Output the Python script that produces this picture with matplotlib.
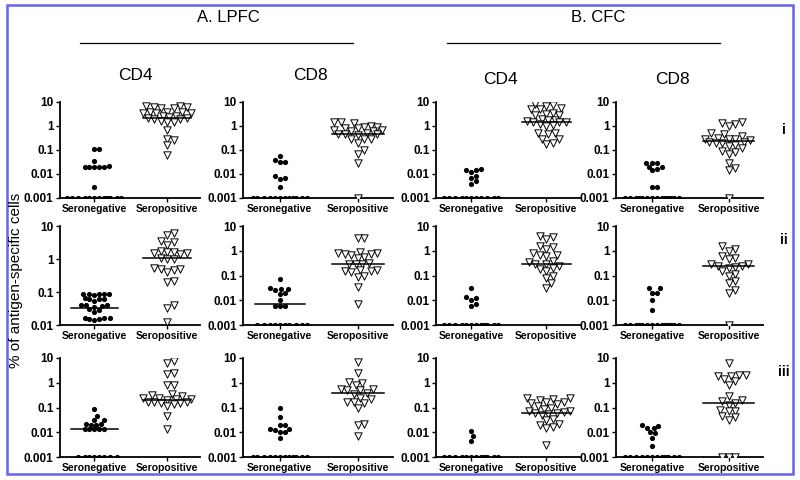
import numpy as np
import matplotlib.pyplot as plt
from matplotlib.patches import Rectangle
from matplotlib.lines import Line2D

plt.rcParams['font.family'] = ['Liberation Sans', 'DejaVu Sans']

groups = ['Seronegative', 'Seropositive']
col_titles = ['CD4', 'CD8', 'CD4', 'CD8']
row_labels = ['i', 'ii', 'iii']
ylabel = '% of antigen-specific cells'

# ---- row i ----
neg_lpfc_cd4_i = [0.11, 0.11, 0.035, 0.02, 0.02, 0.02, 0.021, 0.02, 0.019, 0.0028] + [0.001] * 12
pos_lpfc_cd4_i = [6.5, 6.5, 6, 6, 5.5, 5.5, 4, 4, 4, 3.5, 3.5, 3.5, 2.7, 2.5, 2.3, 2.2, 2.2, 2, 2,
                  1.6, 1.5, 1.4, 0.7, 0.3, 0.25, 0.16, 0.06]
neg_lpfc_cd8_i = [0.055, 0.033, 0.033, 0.04, 0.006, 0.007, 0.008, 0.003] + [0.001] * 12
pos_lpfc_cd8_i = [1.4, 1.3, 1.4, 1.0, 0.9, 0.85, 0.9, 0.8, 0.7, 0.65, 0.6, 0.6, 0.5, 0.45, 0.45,
                  0.45, 0.42, 0.3, 0.28, 0.3, 0.2, 0.1, 0.07, 0.03, 0.001]
neg_cfc_cd4_i = [0.015, 0.012, 0.014, 0.016, 0.005, 0.008, 0.007, 0.004] + [0.001] * 11
pos_cfc_cd4_i = [7.5, 7, 8, 5.5, 5, 5, 3.5, 3.3, 3, 3, 2, 1.8, 1.7, 1.6, 1.5, 1.5, 1.4, 1.2, 1.1, 1.0,
                 0.5, 0.45, 0.5, 0.3, 0.3, 0.18, 0.2]
neg_cfc_cd8_i = [0.03, 0.03, 0.03, 0.02, 0.02, 0.014, 0.016, 0.003, 0.003] + [0.001] * 14
pos_cfc_cd8_i = [1.5, 1.2, 1.0, 1.3, 0.45, 0.4, 0.5, 0.32, 0.3, 0.28, 0.3, 0.25, 0.22, 0.2, 0.2, 0.22,
                 0.15, 0.16, 0.12, 0.09, 0.07, 0.08, 0.03, 0.017, 0.015, 0.001]

# ---- row ii ----
neg_lpfc_cd4_ii = [0.09, 0.085, 0.085, 0.08, 0.085, 0.09, 0.065, 0.06, 0.06, 0.055, 0.06,
                   0.04, 0.038, 0.04, 0.035, 0.04, 0.028, 0.025, 0.03,
                   0.016, 0.015, 0.014, 0.016, 0.015, 0.016]
pos_lpfc_cd4_ii = [6, 5.5, 3.2, 3.5, 2.6, 1.8, 1.6, 1.5, 1.5, 1.4, 1.6, 1.1, 1.0, 1.0,
                   0.55, 0.5, 0.45, 0.5, 0.4, 0.2, 0.22, 0.04, 0.033, 0.012]
neg_lpfc_cd8_ii = [0.07, 0.028, 0.028, 0.03, 0.025, 0.018, 0.02, 0.01, 0.006, 0.006, 0.006] + [0.001] * 10
pos_lpfc_cd8_ii = [3.3, 3.2, 0.8, 0.75, 0.7, 0.8, 0.85, 0.75, 0.55, 0.5, 0.3, 0.3, 0.28, 0.32,
                   0.16, 0.15, 0.15, 0.14, 0.16, 0.09, 0.1, 0.035, 0.007]
neg_cfc_cd4_ii = [0.03, 0.012, 0.013, 0.01, 0.007, 0.006] + [0.001] * 12
pos_cfc_cd4_ii = [4, 3.5, 3, 1.5, 1.4, 1.2, 0.8, 0.7, 0.6, 0.7, 0.4, 0.35, 0.3, 0.3, 0.25,
                  0.2, 0.18, 0.15, 0.1, 0.08, 0.05, 0.03]
neg_cfc_cd8_ii = [0.03, 0.03, 0.02, 0.02, 0.01, 0.004] + [0.001] * 14
pos_cfc_cd8_ii = [1.5, 1.2, 1.0, 0.6, 0.5, 0.45, 0.3, 0.28, 0.25, 0.25, 0.22, 0.2,
                  0.15, 0.12, 0.1, 0.06, 0.05, 0.025, 0.02, 0.001]

# ---- row iii ----
neg_lpfc_cd4_iii = [0.085, 0.045, 0.03, 0.032, 0.022, 0.02, 0.021, 0.02,
                    0.014, 0.013, 0.013, 0.014, 0.013] + [0.001] * 8
pos_lpfc_cd4_iii = [7.5, 6, 2.5, 2.3, 0.8, 0.8, 0.35, 0.32, 0.3, 0.25, 0.22, 0.2, 0.25, 0.22,
                    0.16, 0.15, 0.17, 0.15, 0.14, 0.16, 0.11, 0.045, 0.013]
neg_lpfc_cd8_iii = [0.095, 0.04, 0.02, 0.02, 0.013, 0.014, 0.012, 0.01, 0.01, 0.006] + [0.001] * 12
pos_lpfc_cd8_iii = [7, 2.4, 1.1, 1.0, 0.8, 0.55, 0.5, 0.55, 0.5, 0.38, 0.35, 0.25, 0.22,
                    0.17, 0.15, 0.16, 0.1, 0.022, 0.02, 0.007]
neg_cfc_cd4_iii = [0.011, 0.007, 0.0045] + [0.001] * 12
pos_cfc_cd4_iii = [0.25, 0.22, 0.25, 0.2, 0.16, 0.15, 0.14, 0.17, 0.1, 0.09, 0.11, 0.075, 0.07,
                   0.065, 0.06, 0.055, 0.05, 0.06, 0.035, 0.03, 0.02, 0.022, 0.015, 0.016, 0.003]
neg_cfc_cd8_iii = [0.02, 0.018, 0.015, 0.015, 0.01, 0.009, 0.006, 0.0028] + [0.001] * 12
pos_cfc_cd8_iii = [6.5, 2, 1.9, 2.1, 1.8, 1.4, 1.2, 0.8, 0.3, 0.2, 0.18, 0.15, 0.13,
                   0.08, 0.075, 0.07, 0.045, 0.04, 0.03, 0.001, 0.001, 0.001]

# medians (None = bar sits on the axis)
neg_medians = [[None, None, None, None],
               [0.033, 0.007, None, None],
               [0.013, None, None, None]]
pos_medians = [[2.2, 0.48, 1.5, 0.23],
               [1.05, 0.3, 0.3, 0.25],
               [0.2, 0.38, 0.058, 0.15]]
ymins = [[0.001, 0.001, 0.001, 0.001],
         [0.01, 0.001, 0.001, 0.001],
         [0.001, 0.001, 0.001, 0.001]]

neg_data = [[neg_lpfc_cd4_i, neg_lpfc_cd8_i, neg_cfc_cd4_i, neg_cfc_cd8_i],
            [neg_lpfc_cd4_ii, neg_lpfc_cd8_ii, neg_cfc_cd4_ii, neg_cfc_cd8_ii],
            [neg_lpfc_cd4_iii, neg_lpfc_cd8_iii, neg_cfc_cd4_iii, neg_cfc_cd8_iii]]
pos_data = [[pos_lpfc_cd4_i, pos_lpfc_cd8_i, pos_cfc_cd4_i, pos_cfc_cd8_i],
            [pos_lpfc_cd4_ii, pos_lpfc_cd8_ii, pos_cfc_cd4_ii, pos_cfc_cd8_ii],
            [pos_lpfc_cd4_iii, pos_lpfc_cd8_iii, pos_cfc_cd4_iii, pos_cfc_cd8_iii]]


def swarm(vals, center, diam, maxoff, ppx, ppd):
    """Greedy beeswarm: smallest sideways offset free of overlap, limited to +-maxoff px.
    If nothing is free, take the least crowded spot. ppx = px per x unit, ppd = px per decade."""
    ys = np.log10(np.array(vals, dtype=float)) * ppd
    xs = np.zeros(len(vals))
    placed = []
    step = diam / 3
    cands = [0.0]
    k = 1
    while k * step <= maxoff:
        cands += [k * step, -k * step]
        k += 1
    for i in np.argsort(ys, kind='stable'):
        best, best_d = 0.0, -1
        for off in cands:
            d = min([np.hypot(off - px, ys[i] - py) for px, py in placed] + [1e9])
            if d >= diam:
                best = off
                break
            if d > best_d:
                best, best_d = off, d
        placed.append((best, ys[i]))
        xs[i] = center + best / ppx
    return xs


W, H = 800, 480
fig = plt.figure(figsize=(8, 4.8), dpi=100)

# pixel boxes of the panels
col_x = [(60, 200), (243, 393), (436, 580), (616, 763)]
row_y = [(102, 198), (226, 325), (358, 457)]
xlim = (0.53, 2.45)

for r in range(3):
    for c in range(4):
        x0, x1 = col_x[c]
        y0, y1 = row_y[r]
        ax = fig.add_axes([x0 / W, 1 - y1 / H, (x1 - x0) / W, (y1 - y0) / H])
        ax.set_yscale('log')
        ymin = ymins[r][c]
        ax.set_ylim(ymin, 10)
        ax.set_xlim(*xlim)
        ppx = (x1 - x0) / (xlim[1] - xlim[0])
        ppd = (y1 - y0) / (1 - np.log10(ymin))

        neg = neg_data[r][c]
        pos = pos_data[r][c]
        ax.scatter(swarm(neg, 1, 4.8, 30, ppx, ppd), neg, s=14, c='black', marker='o',
                   linewidths=0, zorder=3)
        ax.scatter(swarm(pos, 2, 6.5, 24, ppx, ppd), pos, s=28, facecolors='white',
                   edgecolors='black', marker='v', linewidths=0.7, zorder=3)
        if neg_medians[r][c] is not None:
            m = neg_medians[r][c]
            ax.plot([0.68, 1.32], [m, m], color='black', lw=1.1, zorder=4)
        m = pos_medians[r][c]
        ax.plot([1.67, 2.33], [m, m], color='black', lw=1.1, zorder=4)

        ticks = [t for t in [0.001, 0.01, 0.1, 1, 10] if t >= ymin]
        ax.set_yticks(ticks)
        ax.set_yticklabels(['%g' % t for t in ticks], fontsize=8.5, fontweight='bold')
        ax.yaxis.set_minor_locator(plt.NullLocator())
        ax.set_xticks([1, 2])
        ax.set_xticklabels(groups, fontsize=7.5, fontweight='bold')
        ax.tick_params(axis='both', length=3, width=1, pad=1.5)
        for s in ['top', 'right']:
            ax.spines[s].set_visible(False)
        for s in ['left', 'bottom']:
            ax.spines[s].set_linewidth(1.3)
        ax.patch.set_alpha(0)

# headers
fig.text(228 / W, 1 - 17 / H, 'A. LPFC', ha='center', va='center', fontsize=12)
fig.text(598 / W, 1 - 17 / H, 'B. CFC', ha='center', va='center', fontsize=12)
fig.add_artist(Line2D([80 / W, 353 / W], [1 - 43 / H] * 2, color='black', lw=0.9))
fig.add_artist(Line2D([447 / W, 720 / W], [1 - 43 / H] * 2, color='black', lw=0.9))

title_pos = [(135, 75), (310, 75), (500, 80), (672, 80)]
for t, (px, py) in zip(col_titles, title_pos):
    fig.text(px / W, 1 - py / H, t, ha='center', va='center', fontsize=12.5)

row_pos = [130, 240, 372]
for t, py in zip(row_labels, row_pos):
    fig.text(784 / W, 1 - py / H, t, ha='center', va='center', fontsize=10, fontweight='bold')

fig.text(16 / W, 1 - 280 / H, ylabel, rotation=90, ha='center', va='center', fontsize=11)

# outer frame
fig.add_artist(Rectangle((7 / W, 1 - 474 / H), 786 / W, 469 / H, transform=fig.transFigure,
                         fill=False, edgecolor='#6464ee', lw=1.8))

fig.savefig('out.png', dpi=100)
